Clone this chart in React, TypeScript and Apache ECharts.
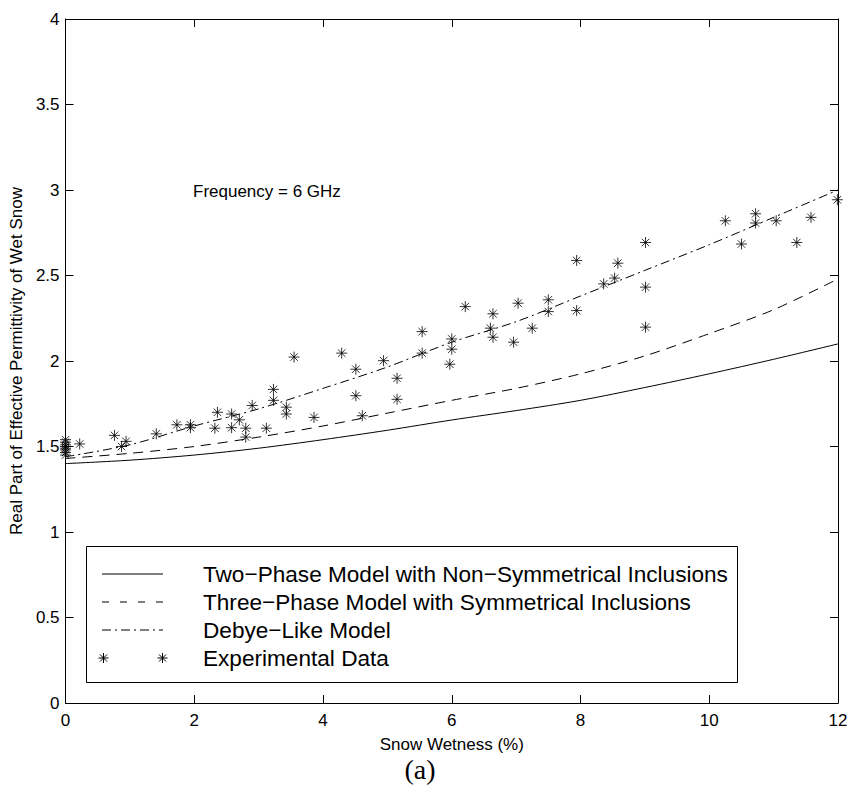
import React, { useEffect, useRef } from "react";
import * as echarts from "echarts";

const wetness = [0, 1, 2, 3, 4, 5, 6, 7, 8, 9, 10, 11, 12];
const twoPhase = [1.40, 1.42, 1.45, 1.49, 1.54, 1.595, 1.655, 1.71, 1.77, 1.845, 1.925, 2.01, 2.10];
const threePhase = [1.43, 1.46, 1.50, 1.555, 1.62, 1.695, 1.77, 1.84, 1.925, 2.03, 2.16, 2.30, 2.48];
const debyeLike = [1.44, 1.51, 1.62, 1.72, 1.84, 1.965, 2.11, 2.23, 2.38, 2.53, 2.68, 2.84, 3.00];

const expX = [
  0, 0, 0, 0, 0, 0, 0, 0,
  0.22, 0.76, 0.87, 0.94, 1.41, 1.73, 1.94, 1.94, 2.32, 2.36, 2.58, 2.58, 2.70, 2.80, 2.80, 2.90,
  3.12, 3.23, 3.23, 3.43, 3.43, 3.55, 3.86,
  4.29, 4.51, 4.51, 4.61, 4.94, 5.15, 5.15, 5.54, 5.54, 6.00, 6.00, 5.97, 6.21, 6.64, 6.60, 6.64,
  7.03, 6.96, 7.25, 7.50, 7.50,
  7.94, 7.94, 8.36, 8.53, 8.58, 9.01, 9.01, 9.01, 10.25, 10.50, 10.72, 10.72, 11.04, 11.36, 11.58, 11.99,
];
const expY = [
  1.45, 1.465, 1.48, 1.49, 1.50, 1.51, 1.525, 1.54,
  1.515, 1.565, 1.50, 1.53, 1.574, 1.627, 1.627, 1.61, 1.607, 1.70, 1.69, 1.61, 1.656, 1.607, 1.555, 1.74,
  1.607, 1.834, 1.77, 1.73, 1.69, 2.023, 1.67,
  2.046, 1.952, 1.797, 1.68, 2.002, 1.899, 1.776, 2.172, 2.046, 2.129, 2.069, 1.981, 2.318, 2.276, 2.192, 2.139,
  2.338, 2.11, 2.192, 2.358, 2.289,
  2.588, 2.295, 2.451, 2.485, 2.572, 2.693, 2.432, 2.198, 2.82, 2.684, 2.861, 2.807, 2.82, 2.693, 2.84, 2.943,
];

const xTicks = [0, 2, 4, 6, 8, 10, 12];
const yTicks = [0, 0.5, 1, 1.5, 2, 2.5, 3, 3.5, 4];

const legendLabels = [
  "Two\u2212Phase Model with Non\u2212Symmetrical Inclusions",
  "Three\u2212Phase Model with Symmetrical Inclusions",
  "Debye\u2212Like Model",
  "Experimental Data",
];

const STAR = "path://M5,0L5,10M0,5L10,5M1.6,1.6L8.4,8.4M1.6,8.4L8.4,1.6";
const FONT = "'Liberation Sans', Arial, Helvetica, sans-serif";
const DASH = [10, 7];
const DASHDOT = [9, 4, 2, 4];

function starLines(cx: number, cy: number, r: number) {
  const d = r * 0.7;
  const st = { stroke: "#000", lineWidth: 1 };
  const segs = [
    [cx - r, cy, cx + r, cy],
    [cx, cy - r, cx, cy + r],
    [cx - d, cy - d, cx + d, cy + d],
    [cx - d, cy + d, cx + d, cy - d],
  ];
  return segs.map((s) => ({
    type: "line",
    z: 12,
    shape: { x1: s[0], y1: s[1], x2: s[2], y2: s[3] },
    style: st,
  }));
}

export default function App() {
  const ref = useRef<HTMLDivElement>(null);
  useEffect(() => {
    if (!ref.current) return;
    const chart = echarts.init(ref.current, undefined, { renderer: "svg" });
    const line = (vals: number[]) => wetness.map((x, i) => [x, vals[i]]);
    const axisCommon = {
      type: "value",
      axisLine: { show: true, onZero: false, lineStyle: { color: "#000", width: 1 } },
      axisTick: { show: true, inside: true, length: 8, lineStyle: { color: "#000" } },
      splitLine: { show: false },
    };
    const lx1 = 102, lx2 = 163, ltx = 203;
    const rows = [574, 602, 630, 658];
    chart.setOption({
      animation: false,
      backgroundColor: "#fff",
      grid: { left: 63, top: 19, width: 775, height: 684, show: false },
      xAxis: [
        {
          ...axisCommon,
          min: 0, max: 12, interval: 2,
          position: "bottom",
          name: "Snow Wetness (%)",
          nameLocation: "middle",
          nameGap: 33,
          nameTextStyle: { color: "#000", fontSize: 17, fontFamily: FONT },
          axisLabel: {
            color: "#000", fontSize: 17, fontFamily: FONT, margin: 9,
            formatter: (v: number) => (xTicks.includes(v) ? String(v) : ""),
          },
        },
        {
          ...axisCommon,
          min: 0, max: 12, interval: 2,
          position: "top",
          axisLabel: { show: false },
        },
      ],
      yAxis: [
        {
          ...axisCommon,
          min: 0, max: 4, interval: 0.5,
          position: "left",
          name: "Real Part of Effective Permittivity of Wet Snow",
          nameLocation: "middle",
          nameGap: 27,
          nameTextStyle: { color: "#000", fontSize: 17, fontFamily: FONT },
          axisLabel: {
            color: "#000", fontSize: 17, fontFamily: FONT, margin: 6,
            formatter: (v: number) => (yTicks.includes(v) ? String(v) : ""),
          },
        },
        {
          ...axisCommon,
          min: 0, max: 4, interval: 0.5,
          position: "right",
          axisLabel: { show: false },
        },
      ],
      series: [
        {
          name: legendLabels[0],
          type: "line",
          data: line(twoPhase),
          smooth: 0.3,
          showSymbol: false,
          lineStyle: { color: "#000", width: 1, type: "solid" },
        },
        {
          name: legendLabels[1],
          type: "line",
          data: line(threePhase),
          smooth: 0.3,
          showSymbol: false,
          lineStyle: { color: "#000", width: 1, type: DASH },
        },
        {
          name: legendLabels[2],
          type: "line",
          data: line(debyeLike),
          smooth: 0.3,
          showSymbol: false,
          lineStyle: { color: "#000", width: 1, type: DASHDOT },
        },
        {
          name: legendLabels[3],
          type: "scatter",
          data: expX.map((x, i) => [x, expY[i]]),
          symbol: STAR,
          symbolSize: 11,
          clip: false,
          itemStyle: { color: "#000", borderColor: "#000", borderWidth: 1 },
        },
      ],
      graphic: [
        {
          type: "text",
          left: 193,
          top: 183,
          style: { text: "Frequency = 6 GHz", fill: "#000", fontSize: 17, fontFamily: FONT },
        },
        {
          type: "rect",
          z: 10,
          shape: { x: 86.5, y: 546.5, width: 651, height: 136 },
          style: { fill: "#fff", stroke: "#000", lineWidth: 1 },
        },
        {
          type: "line",
          z: 11,
          shape: { x1: lx1, y1: rows[0], x2: lx2, y2: rows[0] },
          style: { stroke: "#000", lineWidth: 1 },
        },
        {
          type: "line",
          z: 11,
          shape: { x1: lx1, y1: rows[1], x2: lx2, y2: rows[1] },
          style: { stroke: "#000", lineWidth: 1, lineDash: [7, 11] },
        },
        {
          type: "line",
          z: 11,
          shape: { x1: lx1, y1: rows[2], x2: lx2, y2: rows[2] },
          style: { stroke: "#000", lineWidth: 1, lineDash: DASHDOT },
        },
        ...starLines(lx1 + 1.5, rows[3], 5),
        ...starLines(lx2 - 0.5, rows[3], 5),
        ...legendLabels.map((t, i) => ({
          type: "text",
          x: ltx,
          y: rows[i],
          z: 11,
          style: {
            text: t,
            fill: "#000",
            fontSize: 22.6,
            fontFamily: FONT,
            verticalAlign: "middle",
            align: "left",
          },
        })),
        {
          type: "text",
          x: 420,
          y: 769,
          style: {
            text: "(a)",
            fill: "#000",
            fontSize: 28,
            fontFamily: "'Liberation Serif', 'Times New Roman', serif",
            align: "center",
            verticalAlign: "middle",
          },
        },
      ],
    });
    return () => chart.dispose();
  }, []);
  return (
    <div
      ref={ref}
      style={{ position: "fixed", left: 0, top: 0, width: 851, height: 791, background: "#fff" }}
    />
  );
}
